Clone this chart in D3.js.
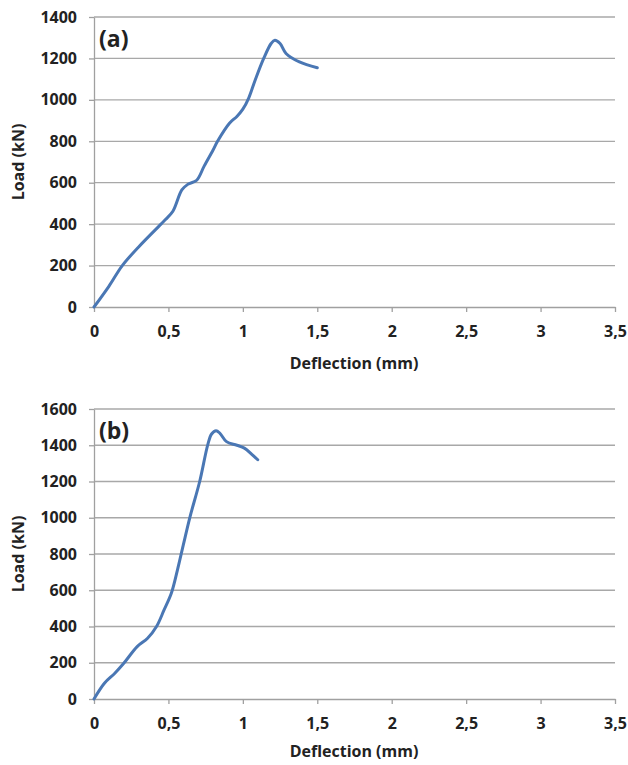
<!DOCTYPE html>
<html>
<head>
<meta charset="utf-8">
<script src="https://cdn.jsdelivr.net/npm/d3@7"></script>
<style>
  body { margin: 0; background: #fff; }
  svg text { font-family: "Open Sans", sans-serif; font-weight: bold; fill: #222; }
</style>
</head>
<body>
<script>
// panel (a) - load / deflection readings
var defA = [0, 0.1, 0.19, 0.3, 0.45, 0.48, 0.53, 0.59, 0.63, 0.69, 0.74, 0.8, 0.83, 0.91, 0.96, 1.0, 1.04, 1.08, 1.14, 1.19, 1.215, 1.25, 1.29, 1.38, 1.5];
var loadA = [0, 100, 200, 290, 400, 422, 462, 565, 592, 612, 680, 758, 800, 887, 920, 955, 1010, 1090, 1200, 1272, 1288, 1272, 1224, 1183, 1155];

// panel (b)
var defB = [0, 0.07, 0.14, 0.2, 0.29, 0.36, 0.42, 0.47, 0.52, 0.56, 0.6, 0.645, 0.71, 0.765, 0.79, 0.82, 0.846, 0.89, 0.96, 1.01, 1.06, 1.1];
var loadB = [0, 87, 142, 197, 289, 335, 400, 490, 585, 710, 850, 1005, 1200, 1405, 1462, 1480, 1466, 1420, 1400, 1384, 1350, 1320];

var xTicks = [0, 0.5, 1, 1.5, 2, 2.5, 3, 3.5];
var yTicksA = [0, 200, 400, 600, 800, 1000, 1200, 1400];
var yTicksB = [0, 200, 400, 600, 800, 1000, 1200, 1400, 1600];

var width = 628, height = 765;
var svg = d3.select("body").append("svg")
    .attr("width", width)
    .attr("height", height);

function drawPanel(opts) {
  var x = d3.scaleLinear().domain([0, 3.5]).range([94, 615]);
  var y = d3.scaleLinear().domain([0, opts.yMax]).range([opts.bottom, opts.top]);
  var g = svg.append("g");

  // horizontal gridlines
  g.selectAll("line.grid")
    .data(opts.yTicks.filter(function(d) { return d > 0; }))
    .enter().append("line")
    .attr("x1", x(0)).attr("x2", x(3.5))
    .attr("y1", function(d) { return y(d); })
    .attr("y2", function(d) { return y(d); })
    .style("stroke", "#a8a8a8")
    .style("stroke-width", 1.3);

  var xAxis = d3.axisBottom(x).tickValues(xTicks)
      .tickFormat(function(d) { return String(d).replace(".", ","); })
      .tickSizeInner(5).tickSizeOuter(0).tickPadding(14);
  var yAxis = d3.axisLeft(y).tickValues(opts.yTicks)
      .tickFormat(d3.format("d"))
      .tickSizeInner(5).tickSizeOuter(0).tickPadding(12);

  var gx = g.append("g").attr("transform", "translate(0," + y(0) + ")").call(xAxis);
  var gy = g.append("g").attr("transform", "translate(" + x(0) + ",0)").call(yAxis);
  [gx, gy].forEach(function(a) {
    a.selectAll("path, line").style("stroke", "#a0a0a0").style("stroke-width", 1.3);
    a.selectAll("text").style("font-size", "16px").style("font-family", "'Open Sans', sans-serif")
      .style("font-weight", "bold").style("fill", "#222");
  });

  var line = d3.line()
    .x(function(d) { return x(d[0]); })
    .y(function(d) { return y(d[1]); })
    .curve(d3.curveCatmullRom.alpha(0.5));

  g.append("path")
    .datum(d3.zip(opts.def, opts.load))
    .attr("d", line)
    .style("fill", "none")
    .style("stroke", "#4a77b4")
    .style("stroke-width", 3)
    .style("stroke-linejoin", "round")
    .style("stroke-linecap", "round");

  g.append("text")
    .attr("x", 99).attr("y", opts.top + 30)
    .style("font-size", "23px")
    .text(opts.label);

  g.append("text")
    .attr("transform", "translate(24," + ((opts.top + opts.bottom) / 2) + ") rotate(-90)")
    .attr("text-anchor", "middle")
    .style("font-size", "16px")
    .text("Load (kN)");

  g.append("text")
    .attr("x", 354).attr("y", opts.bottom + opts.titleOffset)
    .attr("text-anchor", "middle")
    .style("font-size", "16px")
    .text("Deflection (mm)");
}

drawPanel({ def: defA, load: loadA, yMax: 1400, yTicks: yTicksA, top: 17, bottom: 307, label: "(a)", titleOffset: 62 });
drawPanel({ def: defB, load: loadB, yMax: 1600, yTicks: yTicksB, top: 409, bottom: 699, label: "(b)", titleOffset: 58 });
</script>
</body>
</html>
